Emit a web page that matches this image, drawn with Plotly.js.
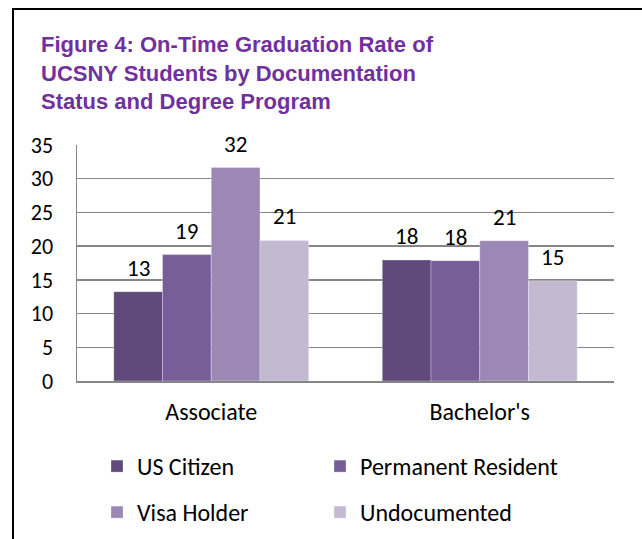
<!DOCTYPE html>
<html>
<head>
<meta charset="utf-8">
<script src="https://cdn.plot.ly/plotly-3.0.1.min.js"></script>
<style>
html,body{margin:0;padding:0;background:#fff;}
#wrap{position:relative;width:642px;height:539px;}
#chart{width:642px;height:539px;}
#frame{position:absolute;left:12px;top:8px;width:640px;height:540px;border-top:2px solid #000;border-left:2px solid #000;pointer-events:none;}
</style>
</head>
<body>
<div id="wrap"><div id="chart"></div><div id="frame"></div></div>
<script>
var categories = ["Associate", "Bachelor's"];
var seriesNames = ["US Citizen", "Permanent Resident", "Visa Holder", "Undocumented"];
var usCitizen = [13.25, 17.95];
var permanentResident = [18.75, 17.85];
var visaHolder = [31.65, 20.8];
var undocumented = [20.85, 14.85];
var seriesValues = [usCitizen, permanentResident, visaHolder, undocumented];
var colors = ["#604A7B", "#775E98", "#9B88B4", "#C3B9D1"];
var legendIds = ["legend", "legend2", "legend3", "legend4"];

var W = 642, H = 539;
var margin = {l: 77, r: 28, t: 145, b: 158};
var bargap = 0.274;
var font = "Carlito, 'Open Sans', Lato, sans-serif";

var traces = seriesValues.map(function (vals, i) {
  return {
    type: "bar",
    name: seriesNames[i],
    x: categories,
    y: vals,
    marker: {color: colors[i], line: {color: "rgba(255,255,255,0.6)", width: 0.5}},
    legend: legendIds[i],
    hoverinfo: "none"
  };
});

var plotW = W - margin.l - margin.r;
var catW = plotW / categories.length;
var barW = catW * (1 - bargap) / seriesValues.length;

var annotations = [];
seriesValues.forEach(function (vals, i) {
  vals.forEach(function (v, j) {
    annotations.push({
      xref: "x", yref: "y", x: categories[j], y: v,
      text: String(Math.round(v)),
      showarrow: false, yanchor: "bottom",
      xshift: (i - (seriesValues.length - 1) / 2) * barW,
      yshift: 8,
      font: {family: font, size: 23, color: "#000"}
    });
  });
});

function legendBox(x, y) {
  return {
    orientation: "h", xref: "container", yref: "container",
    x: x / W, xanchor: "left", y: 1 - y / H, yanchor: "top",
    itemwidth: 30,
    font: {family: font, size: 24, color: "#000"},
    bgcolor: "rgba(0,0,0,0)"
  };
}

var layout = {
  width: W, height: H,
  margin: margin,
  paper_bgcolor: "#fff", plot_bgcolor: "#fff",
  font: {family: font, size: 22, color: "#000"},
  title: {
    text: "Figure 4: On-Time Graduation Rate of<br>UCSNY Students by Documentation<br>Status and Degree Program",
    x: 41 / W, xref: "container", xanchor: "left",
    y: 1 - 52 / H, yref: "container", yanchor: "top",
    font: {family: "'Liberation Sans', Arial, sans-serif", size: 22, color: "#7030A0", weight: "bold"},
    pad: {t: 0, b: 0, l: 0, r: 0}
  },
  barmode: "group",
  bargap: bargap,
  bargroupgap: 0,
  xaxis: {
    type: "category",
    showgrid: false,
    showline: true, linecolor: "#868686", linewidth: 1.5,
    ticks: "",
    ticklabelstandoff: 9,
    tickfont: {family: font, size: 24, color: "#000"}
  },
  yaxis: {
    range: [0, 35], dtick: 5, tick0: 0,
    showgrid: true, gridcolor: "#868686", gridwidth: 1.5,
    showline: true, linecolor: "#868686", linewidth: 1.5,
    zeroline: false,
    ticks: "",
    ticklabelstandoff: 18,
    tickfont: {family: font, size: 22, color: "#000"}
  },
  showlegend: true,
  legend: legendBox(97, 444),
  legend2: legendBox(320, 444),
  legend3: legendBox(97, 490),
  legend4: legendBox(320, 490),
  annotations: annotations
};

Plotly.newPlot("chart", traces, layout, {displayModeBar: false, staticPlot: true});
</script>
</body>
</html>
